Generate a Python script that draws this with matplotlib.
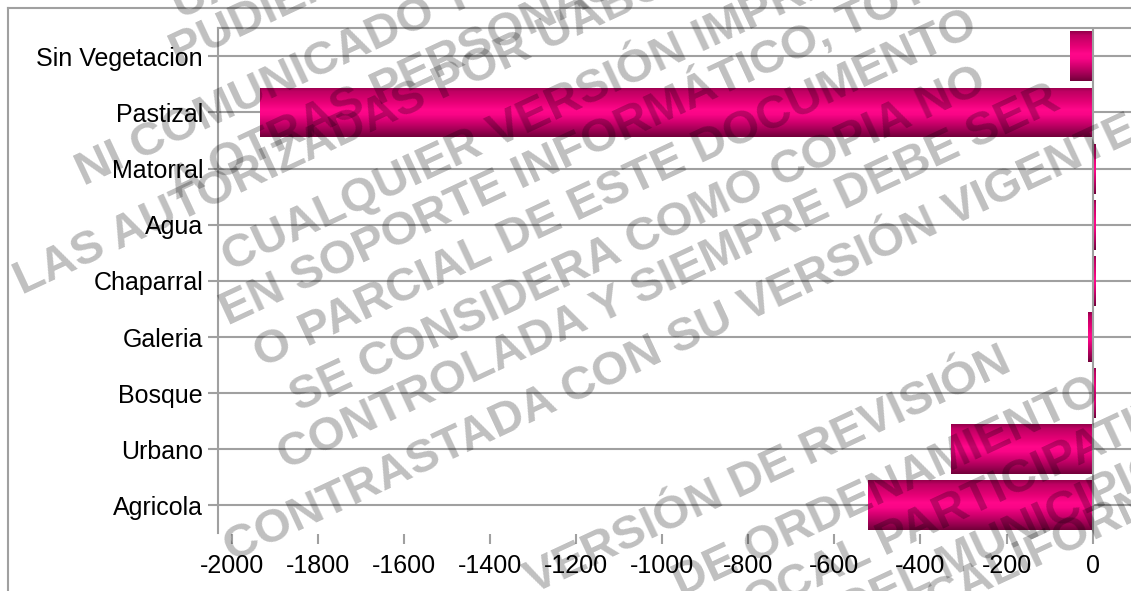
import numpy as np
import matplotlib
matplotlib.use("Agg")
import matplotlib.pyplot as plt
from matplotlib.lines import Line2D

# ---- data ----
categories = ["Sin Vegetacion", "Pastizal", "Matorral", "Agua", "Chaparral",
              "Galeria", "Bosque", "Urbano", "Agricola"]
values = [-53, -1933, 6, 5, 5, -11, 6, -328, -521]
xticks = [-2000, -1800, -1600, -1400, -1200, -1000, -800, -600, -400, -200, 0]
xtick_labels = ["-2000", "-1800", "-1600", "-1400", "-1200", "-1000", "-800",
                "-600", "-400", "-200", "0"]

watermark_1 = [
    ("UABC, NO", 180, 20),
    ("PUDIENDO SER REPRODUCIDO", 178, 66),
    ("NI COMUNICADO TOTAL O PARCIALMENTE", 84, 186),
    ("A OTRAS PERSONAS DISTINTAS A", 176, 200),
    ("LAS AUTORIZADAS POR UABC, CUALQUIER", 22, 295),
    ("CUALQUIER VERSIÓN IMPRESA O", 230, 272),
    ("EN SOPORTE INFORMÁTICO, TOTAL", 228, 326),
    ("O PARCIAL DE ESTE DOCUMENTO", 262, 368),
    ("SE CONSIDERA COMO COPIA NO", 298, 412),
    ("CONTROLADA Y SIEMPRE DEBE SER", 286, 470),
    ("CONTRASTADA CON SU VERSIÓN VIGENTE", 232, 562),
]
watermark_2 = [
    ("VERSIÓN DE REVISIÓN", 533, 594),
    ("DE ORDENAMIENTO", 681, 597),
    ("LOCAL PARTICIPATIVO", 726, 630),
    ("DEL MUNICIPIO DE", 848, 625),
    ("CALIFORNIA", 934, 614),
]

W, H = 1131, 591
plt.rcParams['font.family'] = ['Liberation Sans', 'DejaVu Sans']
fig = plt.figure(figsize=(W / 100, H / 100), dpi=100)
fig.patch.set_facecolor("white")

left_px, top_px, bottom_px = 218.3, 28.3, 533.5
ax = fig.add_axes([left_px / W, (H - bottom_px) / H, (W - left_px) / W,
                   (bottom_px - top_px) / H])

grid_c = "#a0a0a0"
ypos = np.arange(len(categories))
bar_h = 0.89
bars = ax.barh(ypos, values, height=bar_h, color="#e0007a", zorder=2, linewidth=0)

# vertical gradient for bars
stops_t = [0.0, 0.08, 0.3, 0.45, 0.55, 0.72, 0.88, 1.0]
stops_c = np.array([(150, 0, 75), (190, 0, 98), (230, 0, 118), (255, 8, 138),
                    (250, 5, 135), (205, 0, 108), (155, 0, 82), (115, 0, 58)]) / 255.0
tt = np.linspace(0, 1, 64)
grad = np.stack([np.interp(tt, stops_t, stops_c[:, k]) for k in range(3)], axis=1)
grad = grad[:, None, :]
for b, y, v in zip(bars, ypos, values):
    x0, x1 = min(0, v), max(0, v)
    im = ax.imshow(grad, extent=(x0, x1, y + bar_h / 2, y - bar_h / 2),
                   aspect="auto", origin="upper", zorder=2.5, interpolation="bilinear")
    im.set_clip_path(b)

ax.axvline(0, color=grid_c, lw=1.5, zorder=3)

ax.set_xlim(-2031, 89)
ax.set_ylim(len(categories) - 0.5, -0.5)
ax.set_yticks(ypos)
ax.set_yticklabels(categories)
ax.set_xticks(xticks)
ax.set_xticklabels(xtick_labels)
ax.yaxis.grid(True, color=grid_c, lw=1.5, zorder=1)
ax.xaxis.grid(False)
ax.set_axisbelow(True)

for s in ["right", "bottom"]:
    ax.spines[s].set_visible(False)
for s in ["left", "top"]:
    ax.spines[s].set_color(grid_c)
    ax.spines[s].set_linewidth(1.5)

ax.tick_params(axis="y", length=7.5, width=1.5, color=grid_c, pad=3.5,
               labelsize=18, labelcolor="black")
ax.tick_params(axis="x", length=7.5, width=1.5, color=grid_c, pad=7,
               labelsize=18, labelcolor="black")

# outer frame
fx = 8 / W
fy = 1 - 8 / H
fig.add_artist(Line2D([fx, 1], [fy, fy], transform=fig.transFigure,
                      color=grid_c, lw=1.5))
fig.add_artist(Line2D([fx, fx], [0, fy], transform=fig.transFigure,
                      color=grid_c, lw=1.5))

# watermark
for txt, x, y in watermark_1 + watermark_2:
    fig.text(x / W, 1 - y / H, txt, rotation=25, rotation_mode="anchor",
             ha="left", va="baseline", fontsize=34, fontweight="bold",
             color="black", alpha=0.25, zorder=10)

fig.savefig("out.png", dpi=100)
